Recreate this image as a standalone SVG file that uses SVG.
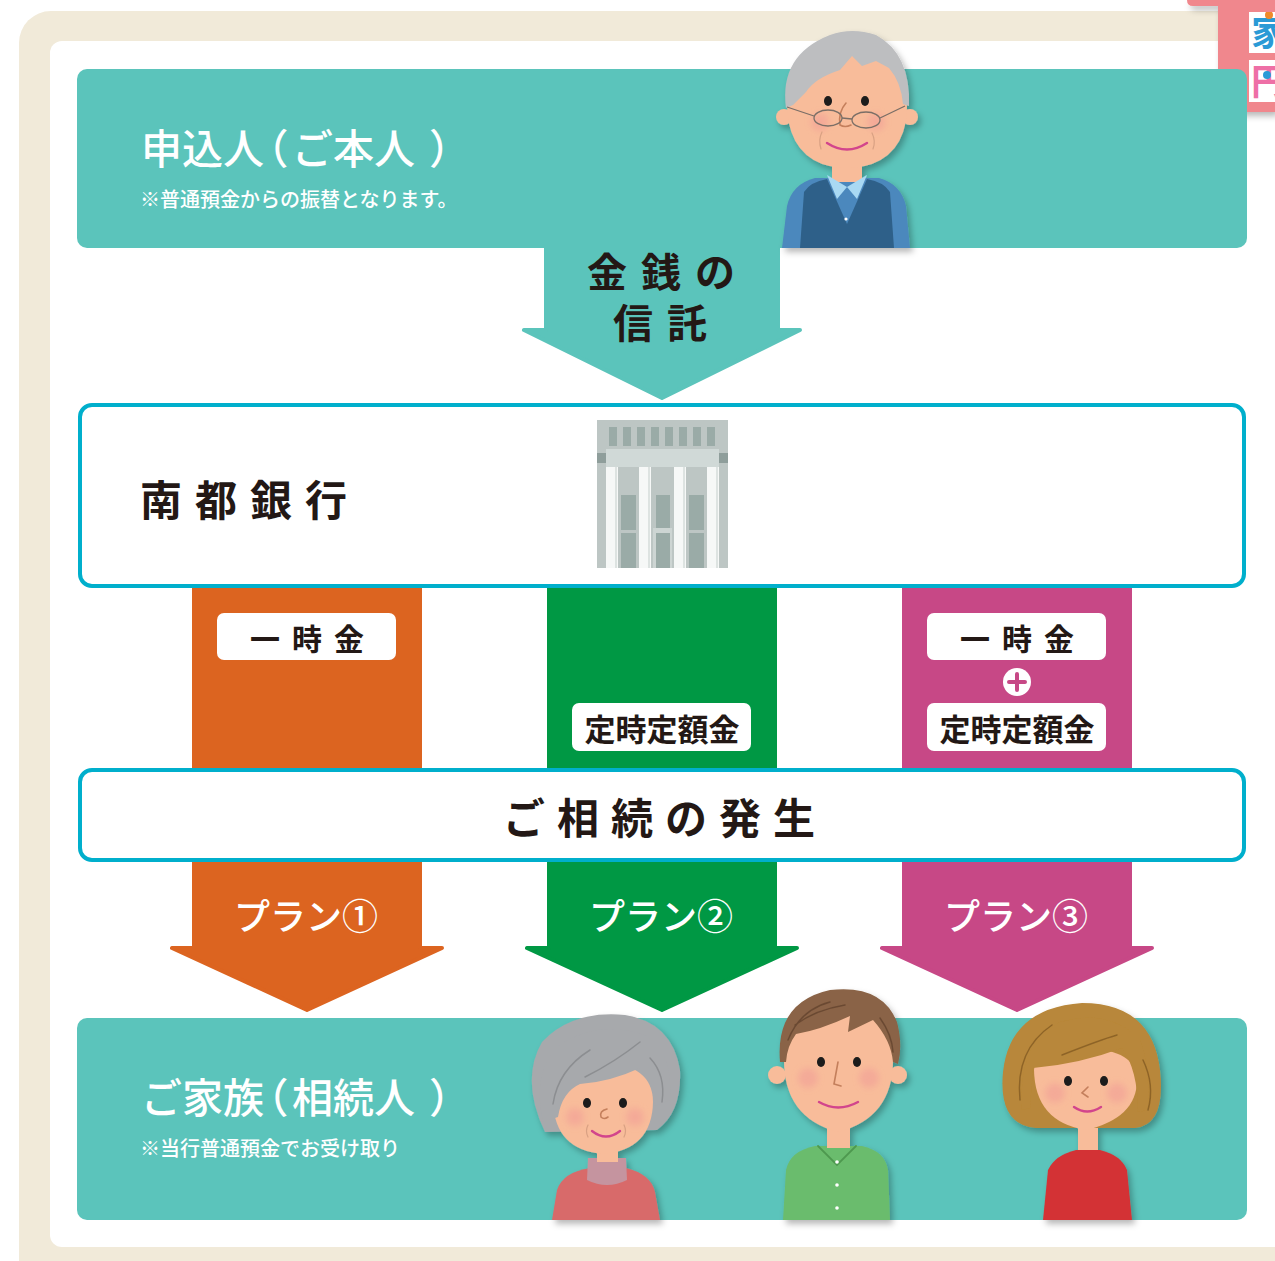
<svg xmlns="http://www.w3.org/2000/svg" width="1275" height="1261" viewBox="0 0 1275 1261">
  <defs>
    <style>
      .jp { font-family: "Noto Sans CJK JP", "Noto Sans", sans-serif; }
      .title { fill: #ffffff; font-size: 41px; font-weight: 500; }
      .half { font-feature-settings: "halt" 1; }
      .note { fill: #ffffff; font-size: 20px; font-weight: 500; }
      .dark { fill: #231815; font-weight: 700; }
      .box { fill: #ffffff; stroke: #00AFCC; stroke-width: 4; }
      .tag { fill: #ffffff; }
      .skin { fill: #F8BC9A; }
      .eye { fill: #1a1a1a; }
      .cheek { fill: #F19C96; opacity: 0.55; }
      .smile { fill: none; stroke: #D2458C; stroke-width: 2.4; stroke-linecap: round; }
      .nose { fill: none; stroke: #C47F5C; stroke-width: 1.6; stroke-linecap: round; }
      .line { fill: none; stroke-linecap: round; }
    </style>
    <filter id="shadow" x="-20%" y="-20%" width="140%" height="140%">
      <feDropShadow dx="3" dy="4" stdDeviation="3" flood-color="#000" flood-opacity="0.28"/>
    </filter>
    <filter id="soft" x="-50%" y="-50%" width="200%" height="200%">
      <feGaussianBlur stdDeviation="3"/>
    </filter>
    <clipPath id="tabclip1"><rect x="1249" y="12" width="26" height="41"/></clipPath>
    <clipPath id="tabclip2"><rect x="1249" y="60" width="26" height="42"/></clipPath>
  </defs>

  <!-- frame -->
  <rect x="19" y="11" width="1300" height="1300" rx="32" fill="#F1EAD9"/>
  <rect x="50" y="41" width="1260" height="1206" rx="12" fill="#ffffff"/>

  <!-- corner tab -->
  <g id="corner-tab" filter="url(#shadow)">
    <path d="M1187,0 L1275,0 L1275,112 L1228,112 Q1218,112 1218,102 L1218,6 L1193,6 Q1187,6 1187,0 Z" fill="#F0878D"/>
  </g>
  <rect x="1249" y="12" width="26" height="41" fill="#ffffff"/>
  <rect x="1249" y="60" width="26" height="42" fill="#ffffff"/>
  <g clip-path="url(#tabclip1)">
    <text x="1251" y="46" class="jp" font-size="36" font-weight="700" fill="#2A9AD6">家</text>
    <circle cx="1269" cy="15" r="4" fill="#F08A2A"/>
  </g>
  <g clip-path="url(#tabclip2)">
    <text x="1251" y="95" class="jp" font-size="36" font-weight="700" fill="#EE6FA6">円</text>
    <circle cx="1267" cy="75" r="4" fill="#2A9AD6"/>
  </g>

  <!-- applicant -->
  <g id="applicant">
    <rect x="77" y="69" width="1170" height="179" rx="10" fill="#5BC4BB"/>
    <text y="146" class="jp title" dominant-baseline="central"><tspan x="141">申込人</tspan><tspan x="268" class="half">（</tspan><tspan x="292">ご本人</tspan><tspan x="429" class="half">）</tspan></text>
    <text x="140" y="198" class="jp note" dominant-baseline="central">※普通預金からの振替となります。</text>
  </g>

  <!-- connectors -->
  <g id="connectors" stroke-linejoin="round">
    <path d="M546,248 L778,248 L778,330 L800,330 L662,398 L524,330 L546,330 Z" fill="#5BC4BB" stroke="#5BC4BB" stroke-width="4"/>
    <rect x="192" y="587" width="230" height="184" fill="#DC6420"/>
    <rect x="547" y="587" width="230" height="184" fill="#009844"/>
    <rect x="902" y="587" width="230" height="184" fill="#C74886"/>
    <path d="M194,859 L420,859 L420,948 L442,948 L307,1010 L172,948 L194,948 Z" fill="#DC6420" stroke="#DC6420" stroke-width="4"/>
    <path d="M549,859 L775,859 L775,948 L797,948 L662,1010 L527,948 L549,948 Z" fill="#009844" stroke="#009844" stroke-width="4"/>
    <path d="M904,859 L1130,859 L1130,948 L1152,948 L1017,1010 L882,948 L904,948 Z" fill="#C74886" stroke="#C74886" stroke-width="4"/>
  </g>
  <text class="jp dark" font-size="40" text-anchor="middle" letter-spacing="14" dominant-baseline="central"><tspan x="668" y="270">金銭の</tspan><tspan x="667" y="321">信託</tspan></text>

  <!-- bank -->
  <g id="bank">
    <rect x="80" y="405" width="1164" height="181" rx="12" class="box"/>
    <text x="140" y="497" class="jp dark" font-size="42" letter-spacing="13" dominant-baseline="central">南都銀行</text>
    <g id="building">
      <rect x="597" y="420" width="131" height="148" fill="#BDC6C4"/>
      <g fill="#9AABA7">
        <rect x="609" y="427" width="8" height="19"/>
        <rect x="623" y="427" width="8" height="19"/>
        <rect x="637" y="427" width="8" height="19"/>
        <rect x="651" y="427" width="8" height="19"/>
        <rect x="665" y="427" width="8" height="19"/>
        <rect x="679" y="427" width="8" height="19"/>
        <rect x="693" y="427" width="8" height="19"/>
        <rect x="707" y="427" width="8" height="19"/>
      </g>
      <rect x="606" y="449" width="113" height="18" fill="#D0D9D7"/>
      <rect x="597" y="453" width="9" height="10" fill="#8F9E9B"/>
      <rect x="719" y="453" width="9" height="10" fill="#8F9E9B"/>
      <g fill="#F6F8F7">
        <rect x="606" y="467" width="12" height="101"/>
        <rect x="639" y="467" width="12" height="101"/>
        <rect x="674" y="467" width="12" height="101"/>
        <rect x="707" y="467" width="12" height="101"/>
      </g>
      <g fill="#DDE3E1">
        <rect x="615" y="467" width="2" height="101"/>
        <rect x="648" y="467" width="2" height="101"/>
        <rect x="683" y="467" width="2" height="101"/>
        <rect x="716" y="467" width="2" height="101"/>
      </g>
      <rect x="653" y="528" width="19" height="40" fill="#CDD5D3"/>
      <g fill="#9AABA7">
        <rect x="621" y="495" width="15" height="35"/>
        <rect x="621" y="533" width="15" height="35"/>
        <rect x="656" y="495" width="14" height="33"/>
        <rect x="656" y="533" width="14" height="35"/>
        <rect x="689" y="495" width="15" height="35"/>
        <rect x="689" y="533" width="15" height="35"/>
      </g>
    </g>
  </g>

  <!-- plan labels -->
  <g id="label-lump-1">
    <rect x="217" y="613" width="179" height="47" rx="7" class="tag"/>
    <text x="313" y="637" class="jp dark" font-size="30" text-anchor="middle" letter-spacing="12" dominant-baseline="central">一時金</text>
  </g>
  <g id="label-fixed-2">
    <rect x="572" y="703" width="179" height="48" rx="7" class="tag"/>
    <text x="662" y="727" class="jp dark" font-size="31" text-anchor="middle" dominant-baseline="central">定時定額金</text>
  </g>
  <g id="label-lump-3">
    <rect x="927" y="613" width="179" height="47" rx="7" class="tag"/>
    <text x="1023" y="637" class="jp dark" font-size="30" text-anchor="middle" letter-spacing="12" dominant-baseline="central">一時金</text>
  </g>
  <g id="label-plus-3">
    <circle cx="1017" cy="682" r="14" fill="#ffffff"/>
    <path d="M1017,674 L1017,690 M1009,682 L1025,682" stroke="#C74886" stroke-width="4" stroke-linecap="round"/>
  </g>
  <g id="label-fixed-3">
    <rect x="927" y="703" width="179" height="48" rx="7" class="tag"/>
    <text x="1017" y="727" class="jp dark" font-size="31" text-anchor="middle" dominant-baseline="central">定時定額金</text>
  </g>

  <!-- inheritance -->
  <g id="inheritance">
    <rect x="80" y="770" width="1164" height="90" rx="12" class="box"/>
    <text x="503" y="815" class="jp dark" font-size="42" letter-spacing="12" dominant-baseline="central">ご相続の発生</text>
  </g>

  <g id="plan-names" class="jp" fill="#ffffff" font-size="36" font-weight="500" text-anchor="middle">
    <text x="306" y="914" dominant-baseline="central">プラン①</text>
    <text x="661" y="914" dominant-baseline="central">プラン②</text>
    <text x="1016" y="914" dominant-baseline="central">プラン③</text>
  </g>

  <!-- family -->
  <g id="family">
    <rect x="77" y="1018" width="1170" height="202" rx="10" fill="#5BC4BB"/>
    <text y="1095" class="jp title" dominant-baseline="central"><tspan x="141">ご家族</tspan><tspan x="268" class="half">（</tspan><tspan x="292">相続人</tspan><tspan x="429" class="half">）</tspan></text>
    <text x="140" y="1147" class="jp note" font-size="21" dominant-baseline="central">※当行普通預金でお受け取り</text>
  </g>

  <!-- grandfather -->
  <g id="person-grandfather" filter="url(#shadow)">
    <path d="M782,248 L787,206 Q792,184 815,178 L879,178 Q901,184 906,206 L910,248 Z" fill="#4C88BD"/>
    <path d="M800,248 L804,192 Q810,182 827,179 L847,224 L867,179 Q884,182 890,192 L894,248 Z" fill="#2F6189"/>
    <rect x="832" y="158" width="30" height="24" class="skin"/>
    <path d="M827,175 L847,187 L837,199 Z" fill="#A9D9F3"/>
    <path d="M867,175 L847,187 L857,199 Z" fill="#A9D9F3"/>
    <circle cx="846" cy="219" r="1.6" fill="#ffffff"/>
    <circle cx="784" cy="117" r="8" class="skin"/>
    <circle cx="910" cy="117" r="8" class="skin"/>
    <path d="M787,100 Q787,52 847,50 Q907,52 907,100 Q909,150 872,164 Q847,172 822,164 Q786,150 787,100 Z" class="skin"/>
    <path d="M786,108 Q779,55 830,35 Q852,27 876,35 Q911,54 909,106 L903,104 Q901,82 889,68 L876,61 L862,66 L852,56 L840,70 Q815,78 806,92 L793,105 Z" fill="#BDBEC0"/>
    <circle cx="820" cy="122" r="9" class="cheek" filter="url(#soft)"/>
    <circle cx="876" cy="122" r="9" class="cheek" filter="url(#soft)"/>
    <ellipse cx="828" cy="101" rx="4" ry="5" class="eye"/>
    <ellipse cx="865" cy="101" rx="4" ry="5" class="eye"/>
    <path d="M846,103 Q838,112 840,125 Q845,128 851,125" class="nose"/>
    <g fill="none" stroke="#7A6E66" stroke-width="1.3">
      <ellipse cx="828" cy="118" rx="14" ry="8"/>
      <ellipse cx="866" cy="120" rx="14" ry="8"/>
      <path d="M842,118 L852,119 M814,116 L787,107 M880,118 L905,106"/>
    </g>
    <path d="M827,143 Q847,156 867,143" class="smile"/>
    <path d="M822,132 Q818,140 821,149 M872,133 Q876,141 873,149" class="line" stroke="#D9A183" stroke-width="1.2"/>
  </g>

  <!-- grandmother -->
  <g id="person-grandmother" filter="url(#shadow)">
    <path d="M552,1220 L557,1190 Q563,1172 590,1168 L626,1168 Q651,1174 655,1192 L660,1220 Z" fill="#D86B6B"/>
    <path d="M588,1158 L626,1158 L627,1180 Q607,1190 587,1180 Z" fill="#C5949F"/>
    <rect x="597" y="1142" width="21" height="20" class="skin"/>
    <path d="M545,1132 Q520,1080 542,1042 Q572,1010 625,1015 Q672,1022 680,1070 Q682,1112 657,1130 Z" fill="#A7A9AC"/>
    <path d="M553,1102 Q553,1067 600,1062 Q653,1064 653,1102 Q652,1150 603,1154 Q555,1150 553,1102 Z" class="skin"/>
    <path d="M543,1122 Q532,1072 558,1046 Q600,1018 647,1036 Q673,1052 670,1100 L655,1106 Q652,1080 640,1068 Q610,1082 580,1084 Q562,1092 558,1117 Z" fill="#A7A9AC"/>
    <path d="M553,1104 Q558,1070 590,1050 M585,1077 Q615,1062 640,1042 M650,1058 Q666,1075 662,1102" class="line" stroke="#8C8E91" stroke-width="1.5"/>
    <circle cx="575" cy="1117" r="9" class="cheek" filter="url(#soft)"/>
    <circle cx="635" cy="1117" r="9" class="cheek" filter="url(#soft)"/>
    <ellipse cx="587" cy="1103" rx="4" ry="5" class="eye"/>
    <ellipse cx="623" cy="1103" rx="4" ry="5" class="eye"/>
    <path d="M607,1109 Q599,1111 601,1117 Q604,1120 608,1117" class="nose"/>
    <path d="M592,1131 Q606,1142 620,1131" class="smile"/>
    <path d="M588,1125 Q585,1131 588,1137 M624,1125 Q627,1131 624,1137" class="line" stroke="#D9A183" stroke-width="1.2"/>
  </g>

  <!-- son -->
  <g id="person-son" filter="url(#shadow)">
    <path d="M783,1220 L786,1170 Q790,1151 815,1146 L862,1146 Q885,1151 888,1170 L890,1220 Z" fill="#6BBC6D"/>
    <rect x="827" y="1122" width="23" height="26" class="skin"/>
    <path d="M818,1146 L837,1165 L856,1146" class="line" stroke="#4E9950" stroke-width="1.8"/>
    <circle cx="837" cy="1162" r="1.8" fill="#ffffff"/>
    <circle cx="837" cy="1185" r="1.8" fill="#ffffff"/>
    <circle cx="837" cy="1208" r="1.8" fill="#ffffff"/>
    <circle cx="777" cy="1075" r="9" class="skin"/>
    <circle cx="898" cy="1075" r="9" class="skin"/>
    <path d="M784,1060 Q784,1005 838,1003 Q893,1005 893,1060 Q893,1118 838,1132 Q784,1118 784,1060 Z" class="skin"/>
    <path d="M780,1062 Q775,1002 830,990 Q882,984 897,1022 Q903,1045 898,1064 L893,1062 Q891,1040 873,1020 L848,1032 L850,1016 Q820,1030 796,1034 Q787,1046 786,1062 Z" fill="#8A6346"/>
    <path d="M788,1040 Q800,1010 830,1002 M795,1025 Q815,1010 845,1005 M880,1018 Q892,1035 893,1052" class="line" stroke="#6B4A33" stroke-width="1.5"/>
    <circle cx="808" cy="1078" r="10" class="cheek" filter="url(#soft)"/>
    <circle cx="869" cy="1078" r="10" class="cheek" filter="url(#soft)"/>
    <ellipse cx="821" cy="1062" rx="4" ry="5" class="eye"/>
    <ellipse cx="857" cy="1062" rx="4" ry="5" class="eye"/>
    <path d="M838,1062 L834,1084 L841,1086" class="nose"/>
    <path d="M819,1102 Q838,1113 858,1102" class="smile"/>
  </g>

  <!-- daughter -->
  <g id="person-daughter" filter="url(#shadow)">
    <path d="M1043,1220 L1048,1170 Q1055,1155 1076,1150 L1100,1150 Q1121,1155 1127,1170 L1132,1220 Z" fill="#D33336"/>
    <rect x="1078" y="1118" width="20" height="32" class="skin"/>
    <path d="M1036,1128 Q998,1125 1003,1072 Q1010,1008 1082,1003 Q1152,1003 1160,1070 Q1166,1125 1135,1128 Z" fill="#B8873A"/>
    <path d="M1034,1070 Q1034,1052 1085,1048 Q1137,1050 1137,1080 Q1137,1118 1086,1130 Q1035,1122 1034,1070 Z" class="skin"/>
    <path d="M1022,1110 Q1018,1040 1060,1022 Q1110,1008 1140,1040 Q1150,1065 1148,1110 L1138,1112 Q1138,1070 1122,1048 Q1080,1064 1033,1068 L1030,1108 Z" fill="#B8873A"/>
    <path d="M1020,1100 Q1015,1050 1052,1025 M1062,1055 Q1100,1040 1117,1035 M1143,1060 Q1155,1085 1148,1110" class="line" stroke="#8E6428" stroke-width="1.5"/>
    <circle cx="1055" cy="1093" r="10" class="cheek" filter="url(#soft)"/>
    <circle cx="1117" cy="1093" r="10" class="cheek" filter="url(#soft)"/>
    <ellipse cx="1068" cy="1081" rx="4" ry="5" class="eye"/>
    <ellipse cx="1104" cy="1081" rx="4" ry="5" class="eye"/>
    <path d="M1088,1087 L1082,1093 L1088,1097" class="nose"/>
    <path d="M1074,1107 Q1087,1116 1101,1107" class="smile"/>
  </g>
</svg>
